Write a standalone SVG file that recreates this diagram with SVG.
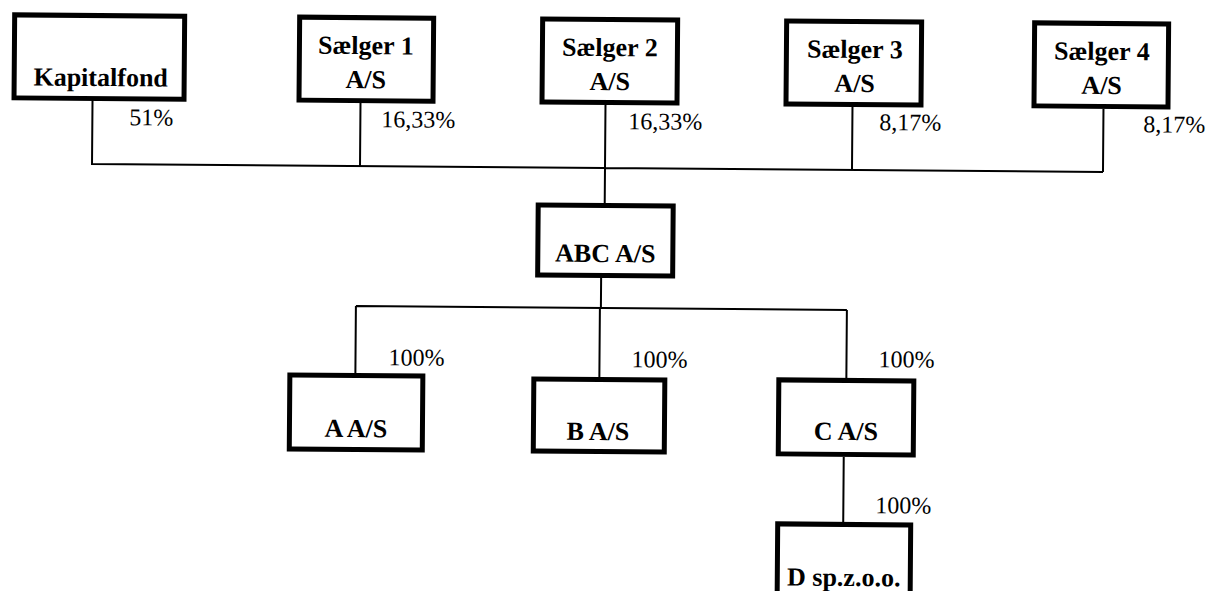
<svg xmlns="http://www.w3.org/2000/svg" width="1206" height="591" viewBox="0 0 1206 591">
<style>
.box{fill:#fff;stroke:#000;stroke-width:5}
.lbl{font-family:'Liberation Serif','DejaVu Serif',serif;font-weight:bold;font-size:26px;text-anchor:middle;fill:#000}
.pct{font-family:'Liberation Serif','DejaVu Serif',serif;font-size:24px;fill:#000}
.con{fill:none;stroke:#000;stroke-width:2}
</style>
<rect width="1206" height="591" fill="#fff"/>
<g transform="rotate(0.45 603 295)">
<g id="connectors">
<path class="con" d="M91,104 V168 H1102 M359,105 V168 M604,105 V205 M851,105 V168 M1102,105 V168 M601,278 V308 M356,308 H847 M356,308 V376 M600,308 V378 M847,308 V377 M845,455 V521"/>
<text class="pct" x="128" y="129">51%</text>
<text class="pct" x="380" y="129">16,33%</text>
<text class="pct" x="627" y="129">16,33%</text>
<text class="pct" x="878" y="128">8,17%</text>
<text class="pct" x="1142" y="128">8,17%</text>
<text class="pct" x="389" y="367">100%</text>
<text class="pct" x="632" y="367">100%</text>
<text class="pct" x="879" y="365">100%</text>
<text class="pct" x="877" y="511">100%</text>
</g>
<g id="kapitalfond">
<rect class="box" x="12.5" y="19.5" width="170" height="83"/>
<text class="lbl" x="99" y="90">Kapitalfond</text>
</g>
<g id="saelger1">
<rect class="box" x="297.5" y="19.5" width="134" height="83"/>
<text class="lbl" x="364" y="56">Sælger 1</text>
<text class="lbl" x="364" y="90">A/S</text>
</g>
<g id="saelger2">
<rect class="box" x="540.5" y="19.5" width="135" height="83"/>
<text class="lbl" x="608" y="56">Sælger 2</text>
<text class="lbl" x="608" y="90">A/S</text>
</g>
<g id="saelger3">
<rect class="box" x="784.5" y="19.5" width="135" height="83"/>
<text class="lbl" x="853" y="56">Sælger 3</text>
<text class="lbl" x="853" y="90">A/S</text>
</g>
<g id="saelger4">
<rect class="box" x="1032.5" y="19.5" width="134" height="83"/>
<text class="lbl" x="1100" y="56">Sælger 4</text>
<text class="lbl" x="1100" y="90">A/S</text>
</g>
<g id="abc">
<rect class="box" x="537.5" y="205.5" width="135" height="70"/>
<text class="lbl" x="605" y="262">ABC A/S</text>
</g>
<g id="a">
<rect class="box" x="290.5" y="377.5" width="133" height="74"/>
<text class="lbl" x="357" y="439">A A/S</text>
</g>
<g id="b">
<rect class="box" x="534.5" y="379.5" width="131" height="72"/>
<text class="lbl" x="599" y="440">B A/S</text>
</g>
<g id="c">
<rect class="box" x="779.5" y="378.5" width="135" height="74"/>
<text class="lbl" x="847" y="438">C A/S</text>
</g>
<g id="d">
<rect class="box" x="779.5" y="522.5" width="133" height="80"/>
<text class="lbl" x="846" y="584">D sp.z.o.o.</text>
</g>
</g>
</svg>
